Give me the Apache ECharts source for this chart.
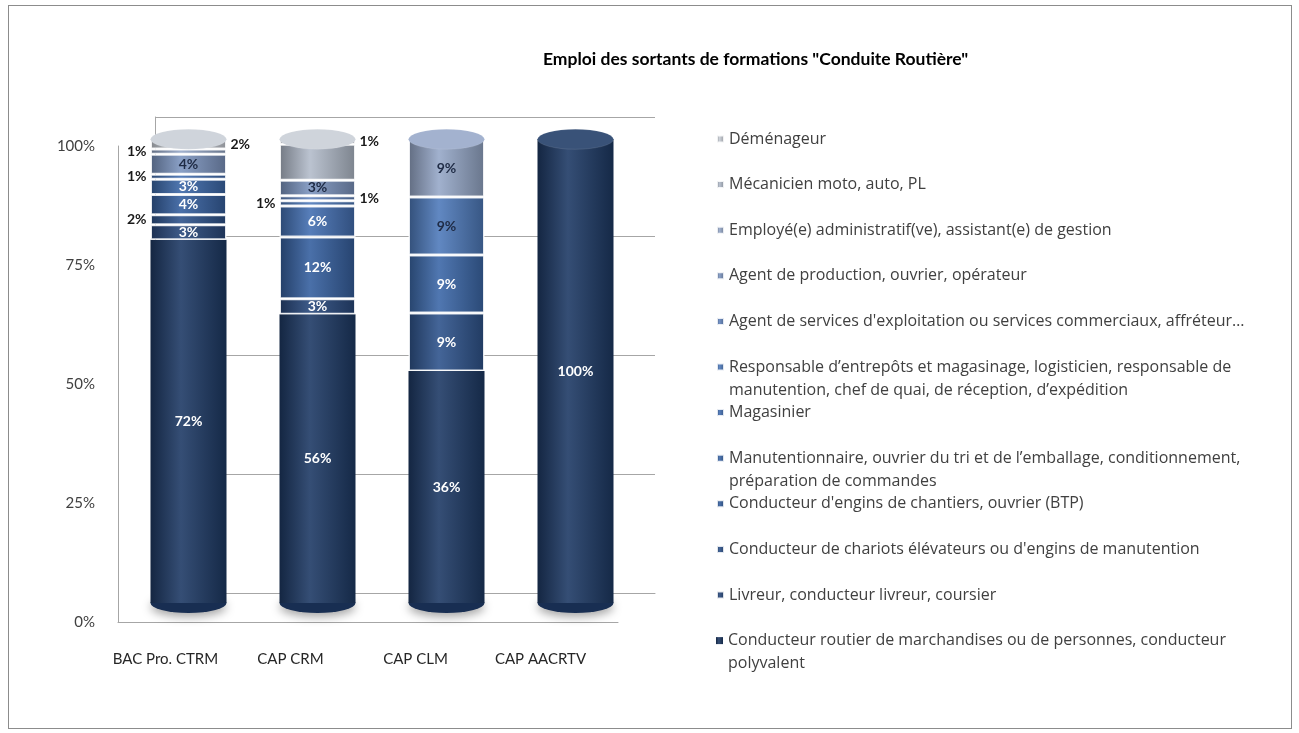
<!DOCTYPE html>
<html>
<head>
<meta charset="utf-8">
<script src="https://cdn.jsdelivr.net/npm/echarts@6/dist/echarts.min.js"></script>
<style>
html, body { margin: 0; padding: 0; background: #fff; }
#chart { width: 1299px; height: 733px; }
#cadre { position: absolute; left: 8px; top: 5px; width: 1282px; height: 722px; border: 1px solid #8c8c8c; pointer-events: none; }
</style>
</head>
<body>
<div id="chart"></div>
<div id="cadre"></div>
<script>
// === Données ===
const formations = ['BAC Pro. CTRM', 'CAP CRM', 'CAP CLM', 'CAP AACRTV'];

// métiers, du bas de la pile vers le haut
const metiers = [
    'Conducteur routier de marchandises ou de personnes, conducteur\npolyvalent',
    'Livreur, conducteur livreur, coursier',
    "Conducteur de chariots élévateurs ou d'engins de manutention",
    "Conducteur d'engins de chantiers, ouvrier (BTP)",
    'Manutentionnaire, ouvrier du tri et de l’emballage, conditionnement,\npréparation de commandes',
    'Magasinier',
    'Responsable d’entrepôts et magasinage, logisticien, responsable de\nmanutention, chef de quai, de réception, d’expédition',
    "Agent de services d'exploitation ou services commerciaux, affréteur…",
    'Agent de production, ouvrier, opérateur',
    'Employé(e) administratif(ve), assistant(e) de gestion',
    'Mécanicien moto, auto, PL',
    'Déménageur'
];

// valeurs (%) par formation : BAC Pro. CTRM, CAP CRM, CAP CLM, CAP AACRTV
const conducteurRoutier = [72, 56, 36, 100];
const livreur           = [3, 3, 0, 0];
const chariots          = [2, 0, 9, 0];
const engins            = [4, 12, 0, 0];
const manutentionnaire  = [3, 0, 9, 0];
const magasinier        = [1, 6, 0, 0];
const responsable       = [0, 1, 9, 0];
const agentServices     = [0, 1, 0, 0];
const agentProduction   = [4, 3, 0, 0];
const employe           = [1, 0, 9, 0];
const mecanicien        = [0, 7, 0, 0];
const demenageur        = [2, 1, 0, 0];

const valeurs = [conducteurRoutier, livreur, chariots, engins, manutentionnaire, magasinier,
    responsable, agentServices, agentProduction, employe, mecanicien, demenageur];

// === Style ===
const police = 'Lato';
const policeLegende = 'Open Sans';
const couleurs = ['#1e3a66', '#29497c', '#2f548c', '#36609f', '#3c68a8', '#4470b2',
    '#4f7bbb', '#6486bf', '#7d95c0', '#96a8c8', '#b3bccb', '#c9ced6'];
// étiquettes posées hors de la barre (formation-métier)
const cotes = { '0-2': 'left', '0-5': 'left', '0-9': 'left', '0-11': 'right',
                '1-6': 'left', '1-7': 'right', '1-11': 'right' };
const masques = new Set(['1-10']);

function teinte(hex, f) {
    const n = parseInt(hex.slice(1), 16);
    const m = c => Math.round(f >= 0 ? c + (255 - c) * f : c * (1 + f));
    return `rgb(${m(n >> 16)},${m((n >> 8) & 255)},${m(n & 255)})`;
}
function cylindre(hex) {
    return new echarts.graphic.LinearGradient(0, 0, 1, 0, [
        { offset: 0, color: teinte(hex, -0.35) },
        { offset: 0.4, color: teinte(hex, 0.1) },
        { offset: 1, color: teinte(hex, -0.3) }
    ]);
}

// === Pourcentages empilés (100 %) ===
const totaux = formations.map((f, j) => valeurs.reduce((s, v) => s + v[j], 0));
const parts = valeurs.map(v => v.map((x, j) => x / totaux[j] * 100));
const hauteurs = formations.map((f, j) => parts.reduce((s, p) => s + p[j], 0));

const barres = metiers.map((nom, i) => ({
    name: nom,
    type: 'bar',
    stack: 'total',
    xAxisIndex: 2,
    yAxisIndex: 2,
    barWidth: 76,
    barGap: '-100%',
    z: 2,
    itemStyle: {
        color: cylindre(couleurs[i]),
        borderColor: 'rgba(255,255,255,0.85)',
        borderWidth: i === 0 ? 0 : 1.5
    },
    label: {
        show: true,
        position: 'inside',
        color: i < 6 ? '#ffffff' : '#1f2b45',
        fontFamily: police,
        fontWeight: 'bold',
        fontSize: 14,
        formatter: p => valeurs[i][p.dataIndex] + '%'
    },
    data: parts[i].map((p, j) => {
        if (valeurs[i][j] === 0) return '-';
        const cle = j + '-' + i;
        const item = { value: p };
        if (cotes[cle]) item.label = { position: cotes[cle], color: '#1a1a1a', distance: 4 };
        if (masques.has(cle)) item.label = { show: false };
        return item;
    })
}));

// couvercle et fond des cylindres
const capots = formations.map((f, j) => {
    let haut = 0;
    valeurs.forEach((v, i) => { if (v[j] > 0) haut = i; });
    return { value: hauteurs[j], itemStyle: { color: teinte(couleurs[haut], 0.12) } };
});

const couvercle = {
    type: 'pictorialBar', xAxisIndex: 2, yAxisIndex: 2, silent: true,
    symbol: 'circle', symbolSize: [76, 20], symbolPosition: 'end', symbolOffset: [0, '-50%'],
    barGap: '-100%', z: 3,
    itemStyle: { borderColor: 'rgba(255,255,255,0.9)', borderWidth: 1 },
    data: capots
};
const fond = {
    type: 'pictorialBar', xAxisIndex: 2, yAxisIndex: 2, silent: true,
    symbol: 'circle', symbolSize: [76, 20], symbolOffset: [0, '50%'],
    barGap: '-100%', z: 1,
    itemStyle: { color: teinte(couleurs[0], -0.2), shadowColor: 'rgba(0,0,0,0.35)', shadowBlur: 10, shadowOffsetY: 4 },
    data: hauteurs
};

// === Légendes : une par métier, du haut (Déménageur) vers le bas ===
// (ligne vide ajoutée devant les libellés sur deux lignes pour aligner le carré sur la 1re ligne)
const legendes = metiers.map((nom, i) => {
    const rang = metiers.length - 1 - i;
    const yIcone = 139 + 45.6 * rang;
    const deuxLignes = nom.includes('\n');
    return {
        data: [nom],
        orient: 'vertical',
        left: 716,
        top: yIcone - (deuxLignes ? 34.5 : 11.5),
        padding: 0,
        icon: 'rect',
        itemWidth: 7,
        itemHeight: 7,
        selectedMode: false,
        formatter: n => (n.includes('\n') ? '\n' + n : n),
        textStyle: {
            fontFamily: policeLegende, fontSize: 16, color: '#404040', lineHeight: 23,
            backgroundColor: 'rgba(0,0,0,0)'
        }
    };
});

const gris = '#a6a6a6';
const option = {
    animation: false,
    title: {
        text: 'Emploi des sortants de formations "Conduite Routière"',
        left: 538,
        top: 45,
        textStyle: { fontFamily: police, fontSize: 17.5, fontWeight: 'bold', color: '#000' }
    },
    legend: legendes,
    grid: [
        { left: 118, top: 146, width: 500, height: 476 },   // axes avant
        { left: 155, top: 117, width: 500, height: 476 },   // paroi du fond
        { left: 124, top: 139, width: 516, height: 464 }    // cylindres
    ],
    xAxis: [
        {
            type: 'category', gridIndex: 0, data: formations,
            axisLine: { lineStyle: { color: gris } }, axisTick: { show: false },
            axisLabel: { interval: 0, margin: 30, padding: [0, 30, 0, 0], color: '#262626', fontFamily: police, fontSize: 15 }
        },
        {
            type: 'category', gridIndex: 1, data: formations,
            axisLine: { lineStyle: { color: gris } }, axisTick: { show: false }, axisLabel: { show: false }
        },
        { type: 'category', gridIndex: 2, data: formations, show: false }
    ],
    yAxis: [
        {
            type: 'value', gridIndex: 0, min: 0, max: 100, interval: 25,
            axisLine: { show: true, lineStyle: { color: gris } }, axisTick: { show: false },
            splitLine: { show: false },
            axisLabel: { margin: 23, formatter: '{value}%', color: '#404040', fontFamily: police, fontSize: 15 }
        },
        {
            type: 'value', gridIndex: 1, min: 0, max: 100, interval: 25,
            axisLine: { show: true, lineStyle: { color: gris } }, axisTick: { show: false },
            axisLabel: { show: false },
            splitLine: { lineStyle: { color: gris } }
        },
        { type: 'value', gridIndex: 2, min: 0, max: 100, show: false, splitLine: { show: false } }
    ],
    series: [fond, ...barres, couvercle]
};

const myChart = echarts.init(document.getElementById('chart'));
myChart.setOption(option);
</script>
</body>
</html>
